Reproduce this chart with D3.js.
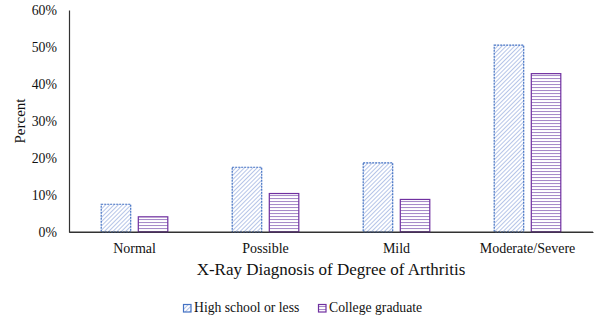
<!DOCTYPE html>
<html><head><meta charset="utf-8">
<script src="https://cdn.jsdelivr.net/npm/d3@7"></script>
</head><body style="margin:0;background:#fff">
<script>
const categories = ["Normal","Possible","Mild","Moderate/Severe"];
const seriesNames = ["High school or less","College graduate"];
const highSchool = [7.5, 17.5, 18.7, 50.5];
const college = [4.1, 10.4, 8.8, 42.8];
const yTicks = [0,10,20,30,40,50,60];

const FONT="Liberation Serif";
const W=600,H=321;
const svg=d3.select("body").append("svg").attr("width",W).attr("height",H).style("display","block");
const defs=svg.append("defs");
const p1=defs.append("pattern").attr("id","diag").attr("patternUnits","userSpaceOnUse").attr("width",3).attr("height",3).attr("patternTransform","rotate(45)");
p1.append("rect").attr("width",3).attr("height",3).attr("fill","#fff");
p1.append("line").attr("x1",0).attr("y1",0).attr("x2",0).attr("y2",3).attr("stroke","#8ea6dc").attr("stroke-width",1.3);
const p2=defs.append("pattern").attr("id","horiz").attr("patternUnits","userSpaceOnUse").attr("width",4).attr("height",3);
p2.append("rect").attr("width",4).attr("height",3).attr("fill","#fff");
p2.append("line").attr("x1",0).attr("y1",0.5).attr("x2",4).attr("y2",0.5).attr("stroke","#a78bc9").attr("stroke-width",1.1);

const x=d3.scaleBand().domain(categories).range([69,593]).paddingInner(0).paddingOuter(0);
const y=d3.scaleLinear().domain([0,60]).range([232,10]);
const barW=29.5, gap=7.6;

const ya=svg.append("g").attr("transform","translate(69,0)").call(d3.axisLeft(y).tickValues(yTicks).tickSize(0).tickPadding(12).tickFormat(d=>d+"%"));
ya.attr("font-family",FONT).attr("font-size",14);
ya.select(".domain").attr("stroke","#333").attr("stroke-width",1.2);
ya.selectAll("text").style("font-family",FONT).style("font-size","13.8px").attr("fill","#111");

const xa=svg.append("g").attr("transform","translate(0,232)").call(d3.axisBottom(x).tickSize(0).tickPadding(11));
xa.attr("font-family",FONT).attr("font-size",14);
xa.select(".domain").attr("stroke","#333").attr("stroke-width",1.2);
xa.selectAll("text").style("font-family",FONT).style("font-size","14px").attr("fill","#111");

const data=[highSchool,college];
const fills=["url(#diag)","url(#horiz)"];
const strokes=["#4472c4","#7030a0"];
const dashes=["2,1",null];
data.forEach((vals,si)=>{
  svg.append("g").selectAll("rect").data(vals).join("rect")
    .attr("x",(d,i)=>x(categories[i])+x.bandwidth()/2-barW-gap/2+si*(barW+gap))
    .attr("y",d=>y(d)).attr("width",barW).attr("height",d=>y(0)-y(d))
    .attr("fill",fills[si]).attr("stroke",strokes[si]).attr("stroke-width",1.2)
    .attr("stroke-dasharray",dashes[si]);
});
svg.append("line").attr("x1",69).attr("x2",593).attr("y1",232).attr("y2",232).attr("stroke","#333").attr("stroke-width",1.2);

svg.append("text").attr("x",331).attr("y",275).attr("text-anchor","middle").style("font-family",FONT).style("font-size","17px").attr("fill","#111").text("X-Ray Diagnosis of Degree of Arthritis");
svg.append("text").attr("transform","translate(25,121) rotate(-90)").attr("text-anchor","middle").style("font-family",FONT).style("font-size","15px").attr("fill","#111").text("Percent");

const leg=[{x:183.5,t:seriesNames[0]},{x:318.5,t:seriesNames[1]}];
leg.forEach((l,i)=>{
  svg.append("rect").attr("x",l.x).attr("y",304.5).attr("width",7.5).attr("height",7.5).attr("fill",fills[i]).attr("stroke",strokes[i]).attr("stroke-width",1.2);
  svg.append("text").attr("x",l.x+10.5).attr("y",312).style("font-family",FONT).style("font-size","13.7px").attr("fill","#111").text(l.t);
});
</script>
</body></html>
